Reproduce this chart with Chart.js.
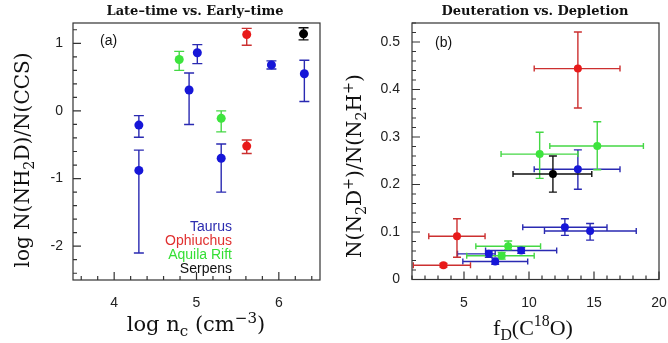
<!DOCTYPE html>
<html>
<head>
<meta charset="utf-8">
<script src="https://cdn.jsdelivr.net/npm/chart.js@4.4.0/dist/chart.umd.min.js"></script>
<style>
  body { margin: 0; background: #fff; }
  #wrap { position: relative; width: 668px; height: 343px; }
  canvas { position: absolute; top: 0; }
  #chartA { left: 0; }
  #chartB { left: 334px; }
</style>
</head>
<body>
<div id="wrap">
  <canvas id="chartA" width="334" height="343"></canvas>
  <canvas id="chartB" width="334" height="343"></canvas>
</div>
<script>
// ---- panel (a): log N(NH2D)/N(CCS) vs log n_c ----
const aTaurusX  = [4.30, 4.30, 4.91, 5.01, 5.30, 5.91, 6.31];
const aTaurusY  = [-0.21, -0.88, 0.31, 0.86, -0.70, 0.68, 0.55];
const aTaurusLo = [-0.39, -2.10, -0.20, 0.70, -1.20, 0.62, 0.14];
const aTaurusHi = [-0.07, -0.58, 0.56, 0.98, -0.49, 0.74, 0.75];

const aOphX  = [5.61, 5.61];
const aOphY  = [1.13, -0.52];
const aOphLo = [0.97, -0.63];
const aOphHi = [1.22, -0.43];

const aAquX  = [4.79, 5.30];
const aAquY  = [0.76, -0.11];
const aAquLo = [0.60, -0.31];
const aAquHi = [0.88, 0.00];

const aSerX  = [6.30];
const aSerY  = [1.14];
const aSerLo = [1.05];
const aSerHi = [1.23];

const aXTicks = [4, 5, 6];
const aYTicks = [-2, -1, 0, 1];

// ---- panel (b): N(N2D+)/N(N2H+) vs f_D(C18O) ----
const bTaurusX   = [13.76, 12.76, 14.70, 9.40, 6.91, 7.40];
const bTaurusY   = [0.232, 0.110, 0.102, 0.061, 0.054, 0.038];
const bTaurusXLo = [10.40, 9.52, 11.19, 6.66, 4.50, 4.91];
const bTaurusXHi = [17.00, 16.00, 18.25, 12.13, 7.40, 9.90];
const bTaurusYLo = [0.190, 0.093, 0.083, 0.055, 0.047, 0.032];
const bTaurusYHi = [0.273, 0.128, 0.118, 0.067, 0.060, 0.045];

const bOphX   = [13.76, 4.46, 3.42];
const bOphY   = [0.444, 0.091, 0.030];
const bOphXLo = [10.40, 2.29, 1.10];
const bOphXHi = [17.00, 6.62, 5.50];
const bOphYLo = [0.361, 0.047, 0.026];
const bOphYHi = [0.521, 0.128, 0.034];

const bAquX   = [10.82, 15.25, 8.40, 7.90];
const bAquY   = [0.264, 0.281, 0.070, 0.050];
const bAquXLo = [7.85, 11.60, 5.91, 5.21];
const bAquXHi = [13.76, 18.80, 10.89, 10.40];
const bAquYLo = [0.213, 0.231, 0.063, 0.043];
const bAquYHi = [0.310, 0.332, 0.081, 0.057];

const bSerX   = [11.84];
const bSerY   = [0.222];
const bSerXLo = [8.77];
const bSerXHi = [14.83];
const bSerYLo = [0.184];
const bSerYHi = [0.260];

const bXTicks = [5, 10, 15, 20];
const bYTicks = [0, 0.1, 0.2, 0.3, 0.4, 0.5];

const regions = ['Taurus', 'Ophiuchus', 'Aquila Rift', 'Serpens'];
const pointColors = ['#1616d8', '#e81a1a', '#3de43d', '#000000'];
const barColors   = ['#2a2ab2', '#cc3030', '#45d845', '#111111'];
const textColors  = ['#2c2cb0', '#e03030', '#35df35', '#111111'];

const sans = '"Liberation Sans", Arial, sans-serif';
const serif = '"Liberation Serif", "Times New Roman", serif';
const wideSerif = '"DejaVu Serif", serif';

function pointsA(xs, ys, lo, hi) {
  return xs.map((x, i) => ({ x: x, y: ys[i], yMin: lo[i], yMax: hi[i] }));
}
function pointsB(xs, ys, xlo, xhi, ylo, yhi) {
  return xs.map((x, i) => ({ x: x, y: ys[i], xMin: xlo[i], xMax: xhi[i], yMin: ylo[i], yMax: yhi[i] }));
}

// error bars drawn under the points
const errorBars = {
  id: 'errorBars',
  beforeDatasetsDraw(chart, args, opts) {
    const { ctx, scales: { x, y } } = chart;
    ctx.save();
    ctx.lineWidth = 1.4;
    chart.data.datasets.forEach(ds => {
      ctx.strokeStyle = ds.barColor;
      ctx.beginPath();
      ds.data.forEach(p => {
        const px = x.getPixelForValue(p.x), py = y.getPixelForValue(p.y);
        if (p.yMin != null) {
          const y0 = y.getPixelForValue(p.yMin), y1 = y.getPixelForValue(p.yMax);
          const c = opts.yCap;
          ctx.moveTo(px, y0); ctx.lineTo(px, y1);
          ctx.moveTo(px - c, y0); ctx.lineTo(px + c, y0);
          ctx.moveTo(px - c, y1); ctx.lineTo(px + c, y1);
        }
        if (p.xMin != null) {
          const x0 = x.getPixelForValue(p.xMin), x1 = x.getPixelForValue(p.xMax);
          const c = opts.xCap;
          ctx.moveTo(x0, py); ctx.lineTo(x1, py);
          ctx.moveTo(x0, py - c); ctx.lineTo(x0, py + c);
          ctx.moveTo(x1, py - c); ctx.lineTo(x1, py + c);
        }
      });
      ctx.stroke();
    });
    ctx.restore();
  }
};

// box round the plot and inward tick marks
const frameTicks = {
  id: 'frameTicks',
  afterDatasetsDraw(chart, args, opts) {
    const { ctx, chartArea: a, scales: { x, y } } = chart;
    ctx.save();
    ctx.strokeStyle = '#333';
    ctx.lineWidth = 1.2;
    ctx.strokeRect(a.left, a.top, a.right - a.left, a.bottom - a.top);
    ctx.beginPath();
    const marks = (scale, minor, major, horiz) => {
      const per = Math.round(major / minor);
      const n0 = Math.ceil(scale.min / minor - 1e-6), n1 = Math.floor(scale.max / minor + 1e-6);
      for (let n = n0; n <= n1; n++) {
        const len = (n % per === 0) ? 8 : 4;
        const p = scale.getPixelForValue(n * minor);
        if (horiz) { ctx.moveTo(p, a.bottom); ctx.lineTo(p, a.bottom - len); }
        else { ctx.moveTo(a.left, p); ctx.lineTo(a.left + len, p); }
      }
    };
    marks(x, opts.xMinor, opts.xMajor, true);
    marks(y, opts.yMinor, opts.yMajor, false);
    ctx.stroke();
    ctx.restore();
  }
};

// text with sub / superscripts
const richText = {
  id: 'richText',
  afterDraw(chart, args, opts) {
    const ctx = chart.ctx;
    (opts.items || []).forEach(it => {
      const size = it.size;
      const fam = it.family || serif;
      const wt = it.weight || 'normal';
      const parts = it.parts.map(p => typeof p === 'string' ? { t: p } : p);
      ctx.save();
      ctx.translate(it.x, it.y);
      if (it.rot) ctx.rotate(it.rot);
      ctx.fillStyle = it.color || '#111';
      ctx.textBaseline = 'middle';
      ctx.textAlign = 'left';
      let total = 0;
      parts.forEach(p => {
        p.s = (p.sub || p.sup) ? size * 0.72 : size;
        ctx.font = wt + ' ' + p.s + 'px ' + fam;
        p.w = ctx.measureText(p.t).width;
        total += p.w;
      });
      let cx = it.align === 'right' ? -total : it.align === 'left' ? 0 : -total / 2;
      parts.forEach(p => {
        ctx.font = wt + ' ' + p.s + 'px ' + fam;
        const dy = p.sub ? size * 0.3 : p.sup ? -size * 0.32 : 0;
        ctx.fillText(p.t, cx, dy);
        cx += p.w;
      });
      ctx.restore();
    });
  }
};

function makeDatasets(list) {
  return list.map((data, i) => ({
    label: regions[i],
    data: data,
    backgroundColor: pointColors[i],
    borderWidth: 0,
    pointRadius: 4.5,
    barColor: barColors[i]
  }));
}

function axis(min, max, ticks, fit, pad, horiz) {
  return {
    type: 'linear', min: min, max: max,
    grid: { display: false, drawTicks: false },
    border: { display: false },
    afterBuildTicks: s => { s.ticks = ticks.map(v => ({ value: v })); },
    afterFit: s => {
      if (horiz) { s.height = fit; s.paddingLeft = 0; s.paddingRight = 0; }
      else { s.width = fit; s.paddingTop = 0; s.paddingBottom = 0; }
    },
    ticks: { color: '#222', font: { family: sans, size: 14 }, padding: pad }
  };
}

const legendItems = regions.map((r, i) => ({
  parts: [r], x: 232, y: 227.5 + i * 14, size: 14, family: sans, color: textColors[i], align: 'right'
}));

new Chart(document.getElementById('chartA'), {
  type: 'scatter',
  data: {
    datasets: makeDatasets([
      pointsA(aTaurusX, aTaurusY, aTaurusLo, aTaurusHi),
      pointsA(aOphX, aOphY, aOphLo, aOphHi),
      pointsA(aAquX, aAquY, aAquLo, aAquHi),
      pointsA(aSerX, aSerY, aSerLo, aSerHi)
    ])
  },
  options: {
    responsive: false,
    animation: false,
    layout: { padding: { top: 23, right: 14, left: 0, bottom: 0 } },
    plugins: {
      legend: { display: false },
      tooltip: { enabled: false },
      errorBars: { yCap: 5, xCap: 4 },
      frameTicks: { xMinor: 0.2, xMajor: 1, yMinor: 0.2, yMajor: 1 },
      richText: {
        items: [
          { parts: ['Late–time vs. Early–time'], x: 195, y: 12, size: 13, weight: 'bold', family: wideSerif },
          { parts: ['log N(NH', { t: '2', sub: 1 }, 'D)/N(CCS)'], x: 24, y: 160, size: 20, rot: -Math.PI / 2, family: wideSerif },
          { parts: ['log n', { t: 'c', sub: 1 }, ' (cm', { t: '−3', sup: 1 }, ')'], x: 196, y: 326, size: 21, family: wideSerif },
          { parts: ['(a)'], x: 100, y: 41, size: 14, family: sans, align: 'left' }
        ].concat(legendItems)
      }
    },
    scales: {
      x: axis(3.5, 6.5, aXTicks, 63, 15, true),
      y: axis(-2.5, 1.3, aYTicks, 73, 10, false)
    }
  },
  plugins: [errorBars, frameTicks, richText]
});

new Chart(document.getElementById('chartB'), {
  type: 'scatter',
  data: {
    datasets: makeDatasets([
      pointsB(bTaurusX, bTaurusY, bTaurusXLo, bTaurusXHi, bTaurusYLo, bTaurusYHi),
      pointsB(bOphX, bOphY, bOphXLo, bOphXHi, bOphYLo, bOphYHi),
      pointsB(bAquX, bAquY, bAquXLo, bAquXHi, bAquYLo, bAquYHi),
      pointsB(bSerX, bSerY, bSerXLo, bSerXHi, bSerYLo, bSerYHi)
    ]).map(ds => Object.assign(ds, { pointRadius: 4 }))
  },
  options: {
    responsive: false,
    animation: false,
    layout: { padding: { top: 23, right: 9, left: 0, bottom: 0 } },
    plugins: {
      legend: { display: false },
      tooltip: { enabled: false },
      errorBars: { yCap: 4, xCap: 3 },
      frameTicks: { xMinor: 1, xMajor: 5, yMinor: 0.02, yMajor: 0.1 },
      richText: {
        items: [
          { parts: ['Deuteration vs. Depletion'], x: 201, y: 12, size: 13, weight: 'bold', family: wideSerif },
          { parts: ['N(N', { t: '2', sub: 1 }, 'D', { t: '+', sup: 1 }, ')/N(N', { t: '2', sub: 1 }, 'H', { t: '+', sup: 1 }, ')'],
            x: 22, y: 166, size: 20, rot: -Math.PI / 2, family: wideSerif },
          { parts: ['f', { t: 'D', sub: 1 }, '(C', { t: '18', sup: 1 }, 'O)'], x: 199, y: 329, size: 22 },
          { parts: ['(b)'], x: 101, y: 43, size: 14, family: sans, align: 'left' }
        ]
      }
    },
    scales: {
      x: axis(1, 20, bXTicks, 63.5, 15, true),
      y: axis(0, 0.54, bYTicks, 78, 12, false)
    }
  },
  plugins: [errorBars, frameTicks, richText]
});
</script>
</body>
</html>
